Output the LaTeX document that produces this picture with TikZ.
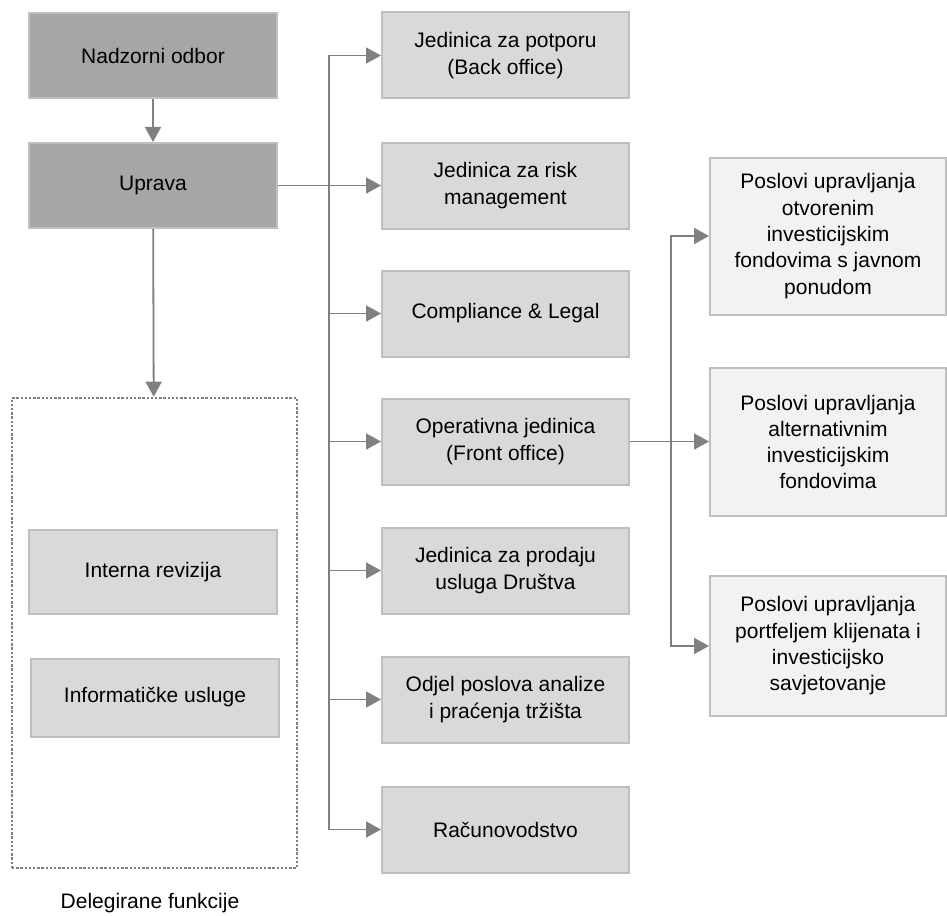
\documentclass[tikz,border=0pt]{standalone}
\usepackage{fontspec}
\setmainfont{Liberation Sans}
\usetikzlibrary{arrows.meta}
\definecolor{darkfill}{HTML}{A6A6A6}
\definecolor{midfill}{HTML}{D9D9D9}
\definecolor{lightfill}{HTML}{F2F2F2}
\definecolor{boxline}{HTML}{BFBFBF}
\definecolor{conn}{HTML}{808080}
\begin{document}
\begin{tikzpicture}[x=1pt,y=-1pt,
  every node/.style={font=\fontsize{21}{26.3}\selectfont, align=center, inner sep=0pt},
  box/.style={draw=boxline, line width=2pt, minimum width=#1},
  darkbox/.style={box=248pt, fill=darkfill, minimum height=85pt},
  midbox/.style={box=247pt, fill=midfill, minimum height=86pt},
  lightbox/.style={box=236pt, fill=lightfill},
  arr/.style={draw=conn, line width=1.8pt, -{Triangle[length=15pt,width=16pt]}},
  ln/.style={draw=conn, line width=1.8pt}]
\useasboundingbox (0,0) rectangle (947,915);

% left column
\node[darkbox] (nad) at (153,55.5) {Nadzorni odbor};
\node[darkbox] (upr) at (153,185.5) {Uprava};

% delegated functions
\node[draw=conn, line width=2.6pt, dash pattern=on 2.4pt off 1.8pt, minimum width=285pt, minimum height=470pt] (del) at (154.5,633) {};
\node[box=248pt, fill=midfill, minimum height=84pt] (int) at (153,572) {Interna revizija};
\node[box=248pt, fill=midfill, minimum height=78pt] (inf) at (155,697.5) {Informatičke usluge};
\node (dlab) at (150,903) {Delegirane funkcije};

% right column
\node[midbox] (r1) at (505.5,55.5) {Jedinica za potporu\\(Back office)};
\node[midbox] (r2) at (505.5,185.5) {Jedinica za risk\\management};
\node[midbox] (r3) at (505.5,313.5) {Compliance \& Legal};
\node[midbox] (r4) at (505.5,441.5) {Operativna jedinica\\(Front office)};
\node[midbox] (r5) at (505.5,570.5) {Jedinica za prodaju\\usluga Društva};
\node[midbox] (r6) at (505.5,699.5) {Odjel poslova analize\\i praćenja tržišta};
\node[midbox] (r7) at (505.5,829.5) {Računovodstvo};

% far right column
\node[lightbox, minimum height=157pt] (f1) at (828,236) {Poslovi upravljanja\\otvorenim\\investicijskim\\fondovima s javnom\\ponudom};
\node[lightbox, minimum height=148pt] (f2) at (828,442) {Poslovi upravljanja\\alternativnim\\investicijskim\\fondovima};
\node[lightbox, minimum height=140pt] (f3) at (828,646) {Poslovi upravljanja\\portfeljem klijenata i\\investicijsko\\savjetovanje};

% connectors
\draw[arr] (nad) -- (upr);
\draw[arr] (upr) -- (del);
\coordinate (t) at (329,185.5);
\draw[arr] (upr) -- (r2);
\foreach \r in {r1,r3,r4,r5,r6,r7} \draw[arr] (t) |- (\r.west);
\coordinate (s) at (671,441.5);
\draw[arr] (r4) -- (f2.west |- r4.east);
\draw[arr] (s) |- (f1.west);
\draw[arr] (s) |- (f3.west);
\end{tikzpicture}
\end{document}
